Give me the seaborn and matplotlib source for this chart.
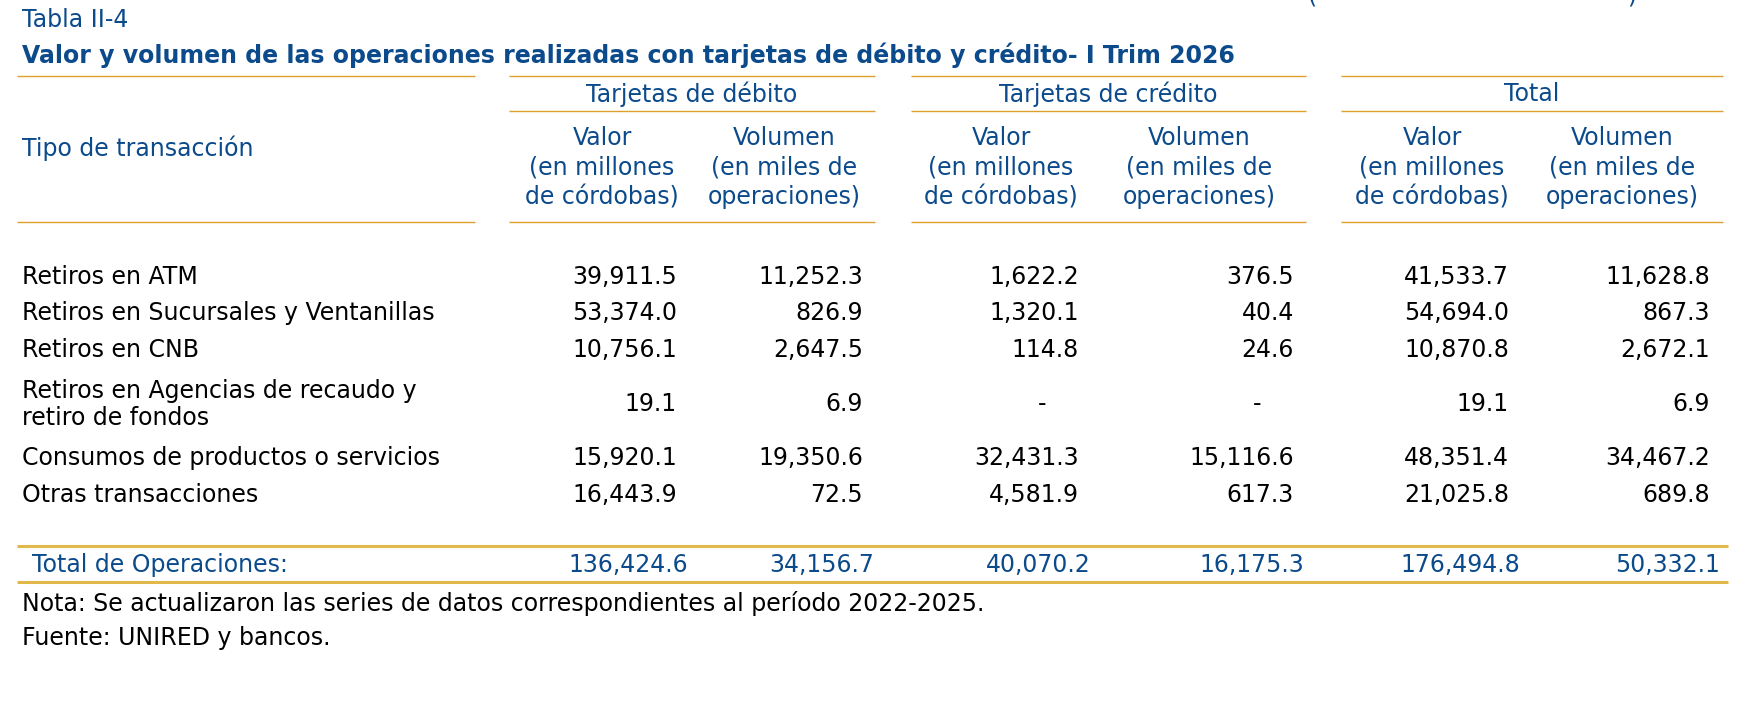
import matplotlib.pyplot as plt
import seaborn as sns

# ================= datos =================
tabla_id = "Tabla II-4"
titulo = "Valor y volumen de las operaciones realizadas con tarjetas de débito y crédito- I Trim 2026"
grupos = ["Tarjetas de débito", "Tarjetas de crédito", "Total"]
subcols = ["Valor\n(en millones\nde córdobas)", "Volumen\n(en miles de\noperaciones)"]
col_tipo = "Tipo de transacción"

tipos = [
    "Retiros en ATM",
    "Retiros en Sucursales y Ventanillas",
    "Retiros en CNB",
    "Retiros en Agencias de recaudo y\nretiro de fondos",
    "Consumos de productos o servicios",
    "Otras transacciones",
]
debito_valor = [39911.5, 53374.0, 10756.1, 19.1, 15920.1, 16443.9]
debito_volumen = [11252.3, 826.9, 2647.5, 6.9, 19350.6, 72.5]
credito_valor = [1622.2, 1320.1, 114.8, None, 32431.3, 4581.9]
credito_volumen = [376.5, 40.4, 24.6, None, 15116.6, 617.3]
total_valor = [41533.7, 54694.0, 10870.8, 19.1, 48351.4, 21025.8]
total_volumen = [11628.8, 867.3, 2672.1, 6.9, 34467.2, 689.8]

total_label = "Total de Operaciones:"
totales = [136424.6, 34156.7, 40070.2, 16175.3, 176494.8, 50332.1]

nota = "Nota: Se actualizaron las series de datos correspondientes al período 2022-2025."
fuente = "Fuente: UNIRED y bancos."

# ================= estilo =================
AZUL = "#0B4A8B"
NARANJA = "#DE9F2C"
DORADO = "#E1B94B"
FS = 17

sns.set_theme(style="white")
plt.rcParams['font.family'] = ['DejaVu Sans']

fig = plt.figure(figsize=(17.44, 7.08), dpi=100)
ax = fig.add_axes([0, 0, 1, 1])
ax.set_xlim(0, 1744)
ax.set_ylim(708, 0)
ax.axis('off')

# parentesis cortados arriba (resto de la pagina)
ax.text(1313, -5, "(", fontsize=FS, color=AZUL, ha='center', va='center')
ax.text(1632, -5, ")", fontsize=FS, color=AZUL, ha='center', va='center')

ax.text(22, 20, tabla_id, fontsize=FS, color=AZUL, va='center')
ax.text(22, 55, titulo, fontsize=FS, color=AZUL, fontweight='bold', va='center')

segmentos = [(17, 475), (509, 875), (911, 1306), (1341, 1723)]
for x0, x1 in segmentos:
    ax.hlines(76, x0, x1, color=NARANJA, lw=1.0)
    ax.hlines(222, x0, x1, color=NARANJA, lw=1.0)
for x0, x1 in segmentos[1:]:
    ax.hlines(111, x0, x1, color=NARANJA, lw=1.0)

for g, (x0, x1) in zip(grupos, segmentos[1:]):
    ax.text((x0 + x1) / 2, 94, g, fontsize=FS, color=AZUL, ha='center', va='center')

centros = [602, 784, 1001, 1199, 1432, 1622]
for i, c in enumerate(centros):
    for j, linea in enumerate(subcols[i % 2].split("\n")):
        ax.text(c, 138 + j * 29.5, linea, fontsize=FS, color=AZUL, ha='center', va='center')

ax.text(22, 148, col_tipo, fontsize=FS, color=AZUL, va='center')

# ================= filas =================
filas_y = [277, 313, 350, 404, 458, 495]
derechos = [677, 863, 1079, 1294, 1509, 1710]
columnas = [debito_valor, debito_volumen, credito_valor, credito_volumen, total_valor, total_volumen]

for r, (tipo, y) in enumerate(zip(tipos, filas_y)):
    lineas = tipo.split("\n")
    y0 = y - 13 * (len(lineas) - 1)
    for j, linea in enumerate(lineas):
        ax.text(22, y0 + j * 27, linea, fontsize=FS, color='black', va='center')
    for col, xr in zip(columnas, derechos):
        v = col[r]
        if v is None:
            ax.text(xr - 33, y, "-", fontsize=FS, color='black', ha='right', va='center')
        else:
            ax.text(xr, y, f"{v:,.1f}", fontsize=FS, color='black', ha='right', va='center')

# ================= total =================
ax.hlines(546, 17, 1728, color=DORADO, lw=2.2)
ax.hlines(582, 17, 1728, color=DORADO, lw=2.2)
ax.text(32, 565, total_label, fontsize=FS, color=AZUL, va='center')
derechos_tot = [688, 874, 1091, 1304, 1520, 1720]
for v, xr in zip(totales, derechos_tot):
    ax.text(xr, 565, f"{v:,.1f}", fontsize=FS, color=AZUL, ha='right', va='center')

ax.text(22, 603, nota, fontsize=FS, color='black', va='center')
ax.text(22, 638, fuente, fontsize=FS, color='black', va='center')

fig.savefig("out.png", dpi=100, facecolor='white')
plt.close(fig)
